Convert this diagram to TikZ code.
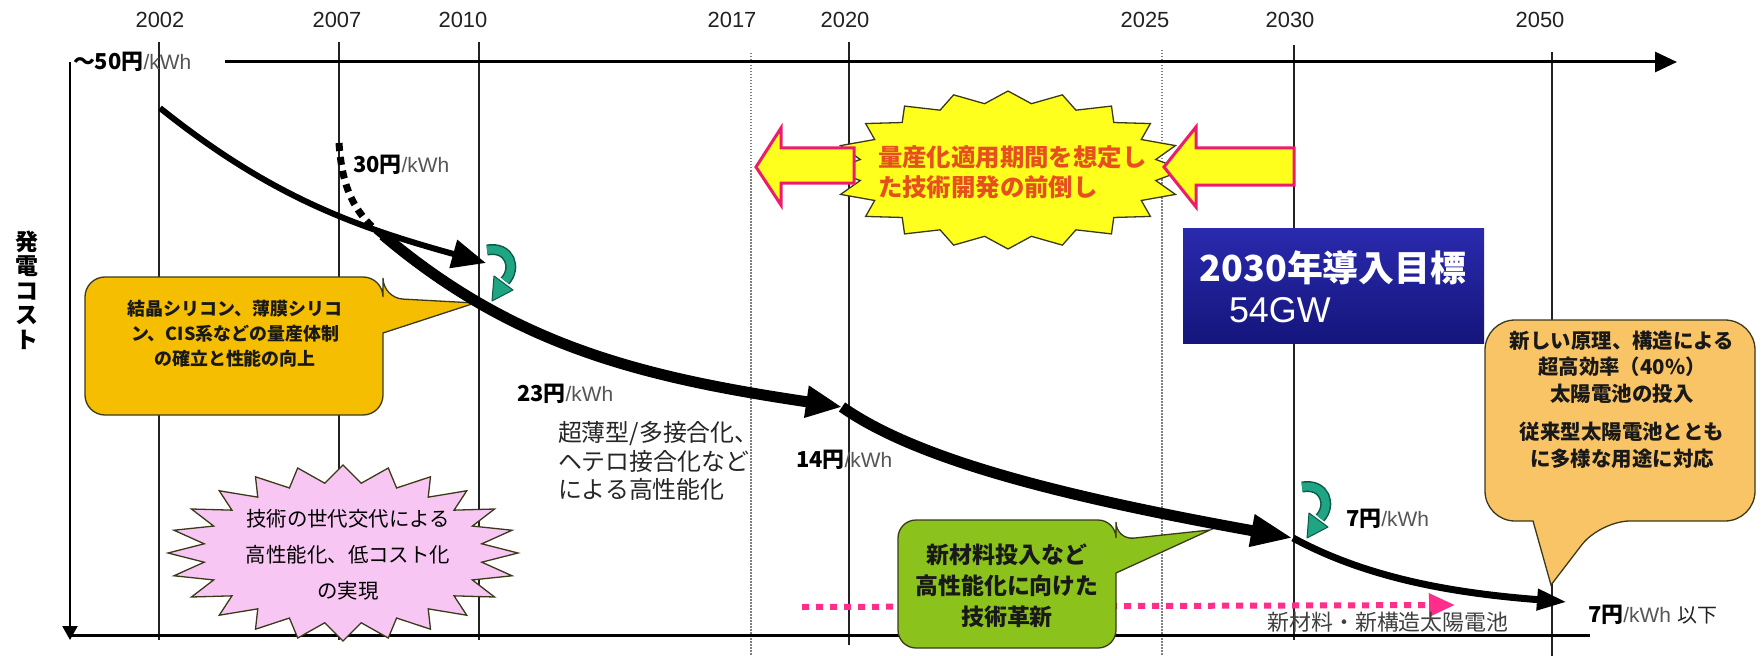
\documentclass[tikz,border=0pt]{standalone}
\usepackage{fontspec}
\usetikzlibrary{arrows.meta}
\newfontfamily\jp{Noto Sans CJK JP}
\newfontfamily\ls{Liberation Sans}
\definecolor{txtgray}{HTML}{555555}
\definecolor{linegray}{HTML}{222222}
\definecolor{goldfill}{HTML}{F6BE00}
\definecolor{orangefill}{HTML}{F9C466}
\definecolor{greenfill}{HTML}{8CC21C}
\definecolor{pinkfill}{HTML}{F7C6F2}
\definecolor{yelfill}{HTML}{FFFF1E}
\definecolor{arrowred}{HTML}{EC1C6A}
\definecolor{orangetxt}{HTML}{E6501E}
\definecolor{tealfill}{HTML}{1FA583}
\definecolor{tealdark}{HTML}{0B5A45}
\definecolor{navytop}{HTML}{2A2AAE}
\definecolor{navybot}{HTML}{15157C}
\definecolor{dotpink}{HTML}{FF2D8C}
\definecolor{outline}{HTML}{3A3A1A}
\newcommand\cst[1]{{\jp\bfseries\fontsize{22}{24}\selectfont #1円}{\ls\color{txtgray}\fontsize{21}{24}\selectfont/kWh}}
\begin{document}
\begin{tikzpicture}[x=1bp,y=-1bp,
  vline/.style={draw=linegray, line width=1.4bp},
  dotline/.style={draw=gray, line width=1.4bp, dash pattern=on 1.5bp off 1.5bp},
  axisline/.style={draw=black, line width=3bp},
  callout/.style={draw=outline, line width=1.3bp},
  lbl/.style={inner sep=0pt, outer sep=0pt},
  yearlbl/.style={lbl, text=linegray, font=\ls\fontsize{22}{24}\selectfont},
  blockarrow/.style={fill=yelfill, draw=arrowred, line width=3bp, line join=miter},
  greenarrow/.pic={
    \draw[tealdark, line width=11bp] (1,3) .. controls (24,-1) and (31,21) .. (19,34);
    \draw[tealfill, line width=8bp] (1,3) .. controls (24,-1) and (31,21) .. (19,34);
    \filldraw[fill=tealfill, draw=tealdark, line width=1bp, line join=round] (8,29) -- (27,43) -- (6,54) -- cycle;
  }]
\useasboundingbox (0,0) rectangle (1762,656);
\fill[white] (0,0) rectangle (1762,656);

% year labels
\foreach \yr/\xx in {2002/160, 2007/337, 2010/463, 2017/732, 2020/845, 2025/1145, 2030/1290, 2050/1540}
  \node[yearlbl] (y\yr) at (\xx,20) {\yr};

% vertical year lines
\draw[vline] (159,42) -- (159,640);
\draw[vline] (339,42) -- (339,640);
\draw[vline] (479,42) -- (479,640);
\draw[vline] (849,42) -- (849,645);
\draw[vline] (1294,45) -- (1294,640);
\draw[vline] (1552,52) -- (1552,656);
\draw[dotline] (751,53) -- (751,656);
\draw[dotline] (1162,50) -- (1162,656);

% axes
\draw[axisline, -{Triangle[length=22bp,width=20bp]}] (225,62) -- (1677,62);
\draw[draw=black, line width=2.2bp, -{Triangle[length=14bp,width=15bp]}] (70,62) -- (70,640);
\draw[axisline] (68,635) -- (1590,635);

% golden callout
\filldraw[callout, fill=goldfill] (85,346) [rounded corners=20bp] -- (85,277) -- (383,277) -- (383,298) [sharp corners] -- (475,303) -- (383,333) [rounded corners=20bp] -- (383,415) -- (85,415) -- cycle;

% right orange callout
\filldraw[callout, fill=orangefill] (1485,400) [rounded corners=30bp] -- (1485,320) -- (1755,320) -- (1755,521) -- (1600,521) [sharp corners] -- (1551,585) -- (1533,521) [rounded corners=30bp] -- (1485,521) -- cycle;

% pink dotted arrow
\draw[dotpink, line width=6bp, dash pattern=on 7bp off 7bp, -{Triangle[length=26bp,width=22bp]}] (802,607) -- (1455,605);

% green callout
\filldraw[callout, fill=greenfill] (898,590) [rounded corners=18bp] -- (898,520) -- (1116,520) -- (1116,540) [sharp corners] -- (1210,530) -- (1116,573) [rounded corners=18bp] -- (1116,648) -- (898,648) -- cycle;

% pink starburst
\filldraw[fill=pinkfill, draw=outline, line width=1.3bp, line join=miter]
  plot[samples at={0,7.5,...,352.5}, variable=\t]
  ({343+(1-0.2*mod(round(\t/7.5),2))*175*cos(\t)}, {553+(1-0.2*mod(round(\t/7.5),2))*88*sin(\t)}) -- cycle;

% yellow starburst
\filldraw[fill=yelfill, draw=outline, line width=1.3bp, line join=miter]
  plot[samples at={0,9,...,351}, variable=\t]
  ({1008+(1-0.15*mod(round(\t/9),2))*176*cos(\t)}, {170+(1-0.15*mod(round(\t/9),2))*79*sin(\t)}) -- cycle;

% block arrows
\filldraw[blockarrow] (756,167) -- (781,128) -- (781,148) -- (854,148) -- (854,183) -- (781,183) -- (781,205) -- cycle;
\filldraw[blockarrow] (1164,167) -- (1196,127) -- (1196,148) -- (1294,148) -- (1294,185) -- (1196,185) -- (1196,207) -- cycle;

% blue goal box
\shade[top color=navytop, bottom color=navybot] (1183,228) rectangle (1484,343);

% cost curves
\draw[line width=6bp, -{Triangle[length=34bp,width=28bp]}] (160,108) .. controls (271,197) and (356,227) .. (486,263);
\draw[line width=7bp, dash pattern=on 8bp off 6bp] (339,143) .. controls (342,185) and (352,212) .. (383,236);
\draw[line width=11bp, -{Triangle[length=36bp,width=30bp]}] (383,235) .. controls (513,345) and (640,377) .. (842,407);
\draw[line width=11bp, -{Triangle[length=42bp,width=30bp]}] (842,407) .. controls (912,456) and (1043,493) .. (1293,538);
\draw[line width=7bp, -{Triangle[length=30bp,width=20bp]}] (1293,538) .. controls (1374,582) and (1467,594) .. (1567,602);

% green circular arrows
\pic at (486,247) {greenarrow};
\pic at (1301,484) {greenarrow};

% texts
\node[lbl, anchor=west] (c50) at (73,62) {\cst{〜50}};
\node[lbl, anchor=west] (c30) at (353,165) {\cst{30}};
\node[lbl, anchor=west] (c23) at (517,394) {\cst{23}};
\node[lbl, anchor=west] (c14) at (796,460) {\cst{14}};
\node[lbl, anchor=west] (c7) at (1346,519) {\cst{7}};
\node[lbl, anchor=west] (c7b) at (1588,615) {\cst{7}\hspace{7bp}{\jp\color{linegray}\fontsize{20}{22}\selectfont 以下}};

\node[lbl, align=center, font=\jp\bfseries\fontsize{23}{24.5}\selectfont] (ylabel) at (27,290) {発\\電\\コ\\ス\\ト};

\node[lbl, align=center, text=black!90, font=\jp\bfseries\fontsize{18}{25}\selectfont] (gold) at (235,334)
  {結晶シリコン、薄膜シリコ\\ン、CIS系などの量産体制\\の確立と性能の向上};

\node[lbl, align=center, text=black, font=\jp\fontsize{20.5}{36}\selectfont] (pink) at (348,555)
  {技術の世代交代による\\高性能化、低コスト化\\の実現};

\node[lbl, align=left, anchor=west, text=black!85, font=\jp\fontsize{24}{28.5}\selectfont] (thin) at (558,461)
  {超薄型/多接合化、\\ヘテロ接合化など\\による高性能化};

\node[lbl, align=left, anchor=west, text=orangetxt, font=\jp\bfseries\fontsize{24.5}{30}\selectfont] (mass) at (878,172)
  {量産化適用期間を想定し\\た技術開発の前倒し};

\node[lbl, text=white, font=\jp\bfseries\fontsize{36}{40}\selectfont] (goal1) at (1333,268) {2030年導入目標};
\node[lbl, anchor=west, text=white, font=\ls\fontsize{36}{40}\selectfont] (goal2) at (1229,310) {54GW};

\node[lbl, align=center, text=black!90, font=\jp\bfseries\fontsize{23}{31}\selectfont] (newmat) at (1007,586)
  {新材料投入など\\高性能化に向けた\\技術革新};

\node[lbl, align=center, text=black!90, font=\jp\bfseries\fontsize{20.5}{26.5}\selectfont] (prin1) at (1622,367)
  {新しい原理、構造による\\超高効率（40\%）\\太陽電池の投入};
\node[lbl, align=center, text=black!90, font=\jp\bfseries\fontsize{20.5}{27}\selectfont] (prin2) at (1622,445)
  {従来型太陽電池ととも\\に多様な用途に対応};

\node[lbl, text=black!75, font=\jp\fontsize{22}{24}\selectfont] (newcell) at (1388,622) {新材料・新構造太陽電池};
\end{tikzpicture}
\end{document}
